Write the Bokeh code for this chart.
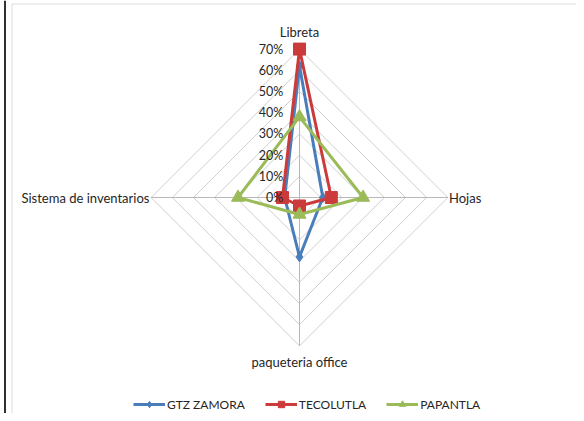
import math
from bokeh.plotting import figure
from bokeh.models import Legend, LegendItem, BoxAnnotation, Span
from bokeh.core.properties import value
from bokeh.embed import file_html
from bokeh.resources import INLINE

categories = ["Libreta", "Hojas", "paqueteria office", "Sistema de inventarios"]
gtz_zamora = [62, 11, 28, 7]
tecolutla = [70, 15, 4, 8]
papantla = [38, 30, 8, 29]
tick_values = [0, 10, 20, 30, 40, 50, 60, 70]
tick_labels = ["0%", "10%", "20%", "30%", "40%", "50%", "60%", "70%"]
series_names = ["GTZ ZAMORA", "TECOLUTLA", "PAPANTLA"]

FONT = "Lato"
S = 2.12  # px per percent unit
W, H = 576, 413
cx, cy = 299, 197  # center in figure px (from left, from top)

p = figure(width=W, height=H, output_backend="svg", toolbar_location=None,
           x_range=(-cx / S, (W - cx) / S), y_range=(-(H - cy) / S, cy / S),
           min_border=0, background_fill_color="white", border_fill_color="white")
p.axis.visible = False
p.grid.visible = False
p.outline_line_color = None

# chart border (left and top)
p.add_layout(BoxAnnotation(left=-(cx - 11.5) / S, top=(cy - 3.5) / S, bottom=-500, right=500,
                           fill_alpha=0, line_color="#8c8c8c", line_width=1))
p.add_layout(Span(location=-(cx - 4.5) / S, dimension="height", line_color="#303030", line_width=2))

n = len(categories)
angles = [math.radians(90 - 360 * i / n) for i in range(n)]

def poly(vals):
    xs = [v * math.cos(a) for v, a in zip(vals, angles)]
    ys = [v * math.sin(a) for v, a in zip(vals, angles)]
    return xs, ys

# grid diamonds
for t in tick_values[1:]:
    xs, ys = poly([t] * n)
    p.line(xs + xs[:1], ys + ys[:1], line_color="#cfcfcf", line_width=1)
# spokes
rmax = tick_values[-1]
for a in angles:
    p.line([0, rmax * math.cos(a)], [0, rmax * math.sin(a)], line_color="#b8b8b8", line_width=1)

# category labels
p.text(x=[0], y=[78.3], text=[categories[0]], text_align="center", text_baseline="middle",
       text_font=value(FONT), text_font_size="13px", text_color="#262626")
p.text(x=[70.5], y=[0], text=[categories[1]], text_align="left", text_baseline="middle",
       text_font=value(FONT), text_font_size="13px", text_color="#262626")
p.text(x=[0], y=[-77.8], text=[categories[2]], text_align="center", text_baseline="middle",
       text_font=value(FONT), text_font_size="13px", text_color="#262626")
p.text(x=[-70.8], y=[0], text=[categories[3]], text_align="right", text_baseline="middle",
       text_font=value(FONT), text_font_size="13px", text_color="#262626")

colors = ["#4A7EBB", "#CC3B3B", "#9BBB59"]
markers = ["diamond", "square", "triangle"]
msizes = [10, 12, 13]
items = []
for name, vals, col, mk, ms in zip(series_names, [gtz_zamora, tecolutla, papantla], colors, markers, msizes):
    xs, ys = poly(vals)
    l = p.line(xs + xs[:1], ys + ys[:1], line_color=col, line_width=3)
    s = p.scatter(xs, ys, marker=mk, size=ms, fill_color=col, line_color=col)
    items.append(LegendItem(label=name, renderers=[l, s]))

# radial tick labels
p.text(x=[-7.6] * len(tick_values), y=tick_values, text=tick_labels, text_align="right",
       text_baseline="middle", text_font=value(FONT), text_font_size="12.5px", text_color="#262626")

legend = Legend(items=items, orientation="horizontal", location=(133, 1),
                label_text_font=FONT, label_text_font_size="12px", label_text_color="#262626",
                glyph_width=32, glyph_height=16, label_height=16, label_standoff=2,
                spacing=20, padding=0, margin=0, border_line_color=None,
                background_fill_alpha=0)
p.add_layout(legend, "center")

open("out.html", "w").write(file_html(p, INLINE))
